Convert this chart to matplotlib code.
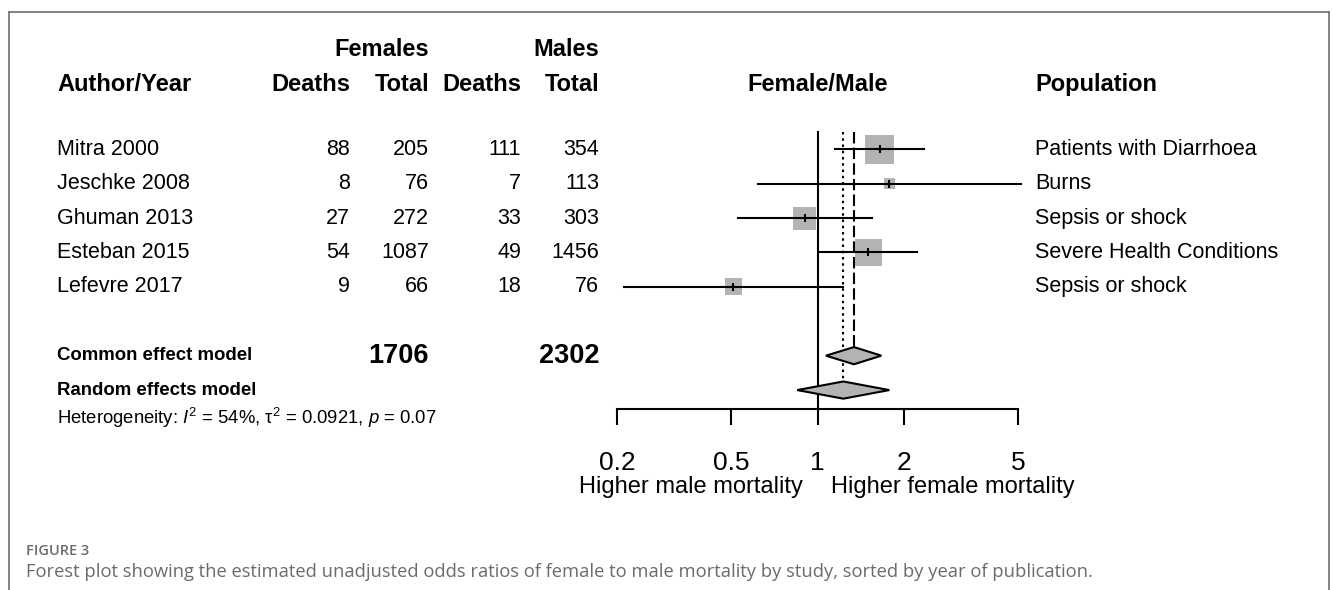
#!/usr/bin/env python

import matplotlib
matplotlib.use('Agg')
import matplotlib.pyplot as plt
import matplotlib.transforms as mtransforms
from matplotlib.lines import Line2D

# Study table
studies = ['Mitra 2000', 'Jeschke 2008', 'Ghuman 2013', 'Esteban 2015', 'Lefevre 2017']
f_deaths = [88, 8, 27, 54, 9]
f_total = [205, 76, 272, 1087, 66]
m_deaths = [111, 7, 33, 49, 18]
m_total = [354, 113, 303, 1456, 76]
population = ['Patients with Diarrhoea', 'Burns', 'Sepsis or shock',
              'Severe Health Conditions', 'Sepsis or shock']

# Odds ratios (female/male) with 95% CI
odds_ratio = [1.647, 1.782, 0.902, 1.501, 0.509]
ci_low = [1.155, 0.618, 0.527, 1.011, 0.211]
ci_high = [2.349, 5.14, 1.543, 2.228, 1.226]

# Pooled estimates: (estimate, lower, upper)
common_effect = (1.34, 1.07, 1.67)
random_effects = (1.23, 0.85, 1.78)
heterogeneity = 'Heterogeneity: $I^2$ = 54%, τ$^2$ = 0.0921, $p$ = 0.07'

ticks = [0.2, 0.5, 1, 2, 5]
tick_labels = ['0.2', '0.5', '1', '2', '5']

# box side length in pixels for each study
box_px = [29, 11, 23, 27, 17]

W, H = 1333, 590
plt.rcParams['font.family'] = ['Liberation Sans', 'DejaVu Sans']
plt.rcParams['mathtext.fontset'] = 'custom'
plt.rcParams['mathtext.rm'] = 'Liberation Sans'
plt.rcParams['mathtext.it'] = 'Liberation Sans:italic'
plt.rcParams['mathtext.bf'] = 'Liberation Sans:bold'

fig = plt.figure(figsize=(W / 100, H / 100), dpi=100)

def fx(px):
    return px / W

def fy(py):
    return 1 - py / H

# forest panel: x = OR on log scale, y = row index (0 = first study)
ax = fig.add_axes([fx(617), fy(409), fx(1018) - fx(617), fy(132) - fy(409)])
ax.set_xscale('log')
ax.set_xlim(0.2, 5)
ax.set_ylim(7.55, -0.5)
for side in ['top', 'right', 'left']:
    ax.spines[side].set_visible(False)
ax.spines['bottom'].set_linewidth(1.5)
ax.set_yticks([])
ax.set_xticks(ticks)
ax.set_xticklabels(tick_labels)
ax.xaxis.set_minor_locator(matplotlib.ticker.NullLocator())
ax.tick_params(axis='x', direction='out', length=11.5, width=1.5, pad=19, labelsize=19)
ax.patch.set_visible(False)

rows = list(range(len(studies)))
row_common, row_random = 6, 7
half_h = 0.25  # diamond half height in rows

# reference lines: no effect, common effect (dashed), random effects (dotted)
ax.plot([1, 1], [-0.5, 7.55], color='black', lw=1.5, clip_on=False)
ax.plot([common_effect[0]] * 2, [-0.5, row_common - half_h], color='black', lw=1.5,
        linestyle=(0, (5.5, 2)), clip_on=False)
ax.plot([random_effects[0]] * 2, [-0.5, row_random - half_h], color='black', lw=1.5,
        linestyle=(0, (1.2, 1.8)), clip_on=False)

# study boxes and confidence intervals
ax.scatter(odds_ratio, rows, s=[(p * 0.72) ** 2 for p in box_px], marker='s',
           color='#b3b3b3', edgecolors='none', zorder=2, clip_on=False)
for r, est, lo, hi in zip(rows, odds_ratio, ci_low, ci_high):
    ax.plot([lo, hi], [r, r], color='black', lw=1.5, zorder=3, clip_on=False)
    ax.plot([est], [r], marker='|', color='black', markersize=6, mew=1.5, zorder=4,
            clip_on=False)

# pooled diamonds
for r, (est, lo, hi) in [(row_common, common_effect), (row_random, random_effects)]:
    ax.fill([lo, est, hi, est], [r, r - half_h, r, r + half_h], facecolor='#b3b3b3',
            edgecolor='black', lw=1.5, zorder=3, clip_on=False)

ax.annotate('Higher male mortality', xy=(1, 0), xycoords=('data', 'axes fraction'),
            xytext=(-10.5, -56), textcoords='offset points', ha='right', va='center',
            fontsize=17)
ax.annotate('Higher female mortality', xy=(1, 0), xycoords=('data', 'axes fraction'),
            xytext=(10, -56), textcoords='offset points', ha='left', va='center',
            fontsize=17)

# table text: x in figure pixels, y in row units
row_tf = mtransforms.blended_transform_factory(fig.transFigure, ax.transData)
col_name, col_fd, col_ft, col_md, col_mt, col_pop = 57, 350, 429, 521, 599, 1035

def row_text(px, row, s, ha='left', **kw):
    fig.text(fx(px), row, s, transform=row_tf, ha=ha, va='center', **kw)

for r in rows:
    row_text(col_name, r, studies[r], fontsize=15.5)
    row_text(col_fd, r, str(f_deaths[r]), ha='right', fontsize=15.5)
    row_text(col_ft, r, str(f_total[r]), ha='right', fontsize=15.5)
    row_text(col_md, r, str(m_deaths[r]), ha='right', fontsize=15.5)
    row_text(col_mt, r, str(m_total[r]), ha='right', fontsize=15.5)
    row_text(col_pop, r, population[r], fontsize=15.5)

row_text(col_name, row_common, 'Common effect model', fontsize=13.4, fontweight='bold')
row_text(col_ft, row_common, str(sum(f_total)), ha='right', fontsize=19.5, fontweight='bold')
row_text(col_mt, row_common, str(sum(m_total)), ha='right', fontsize=19.5, fontweight='bold')
row_text(col_name, row_random, 'Random effects model', fontsize=13.4, fontweight='bold')
row_text(col_name, 7.8, heterogeneity, fontsize=13.3)

# column headers
hdr = dict(fontsize=17, fontweight='bold', va='baseline')
fig.text(fx(col_ft), fy(56), 'Females', ha='right', **hdr)
fig.text(fx(col_mt), fy(56), 'Males', ha='right', **hdr)
fig.text(fx(col_name), fy(91), 'Author/Year', ha='left', **hdr)
fig.text(fx(col_fd), fy(91), 'Deaths', ha='right', **hdr)
fig.text(fx(col_ft), fy(91), 'Total', ha='right', **hdr)
fig.text(fx(col_md), fy(91), 'Deaths', ha='right', **hdr)
fig.text(fx(col_mt), fy(91), 'Total', ha='right', **hdr)
fig.text(fx(818), fy(91), 'Female/Male', ha='center', **hdr)
fig.text(fx(col_pop), fy(91), 'Population', ha='left', **hdr)

# figure frame (top and sides)
frame = dict(color='#6e6e6e', lw=1.2, transform=fig.transFigure)
fig.add_artist(Line2D([fx(9), fx(1329)], [fy(12), fy(12)], **frame))
fig.add_artist(Line2D([fx(9), fx(9)], [fy(12), 0], **frame))
fig.add_artist(Line2D([fx(1329), fx(1329)], [fy(12), 0], **frame))

# caption
fig.text(fx(26), fy(551), 'FIGURE 3', family='Open Sans', fontweight='semibold',
         fontsize=10.5, color='#6b6b6b', va='center')
fig.text(fx(26), fy(572), 'Forest plot showing the estimated unadjusted odds ratios of female '
         'to male mortality by study, sorted by year of publication.',
         family='Open Sans', fontsize=13.2, color='#6b6b6b', va='center')

fig.savefig('out.png', dpi=100)
